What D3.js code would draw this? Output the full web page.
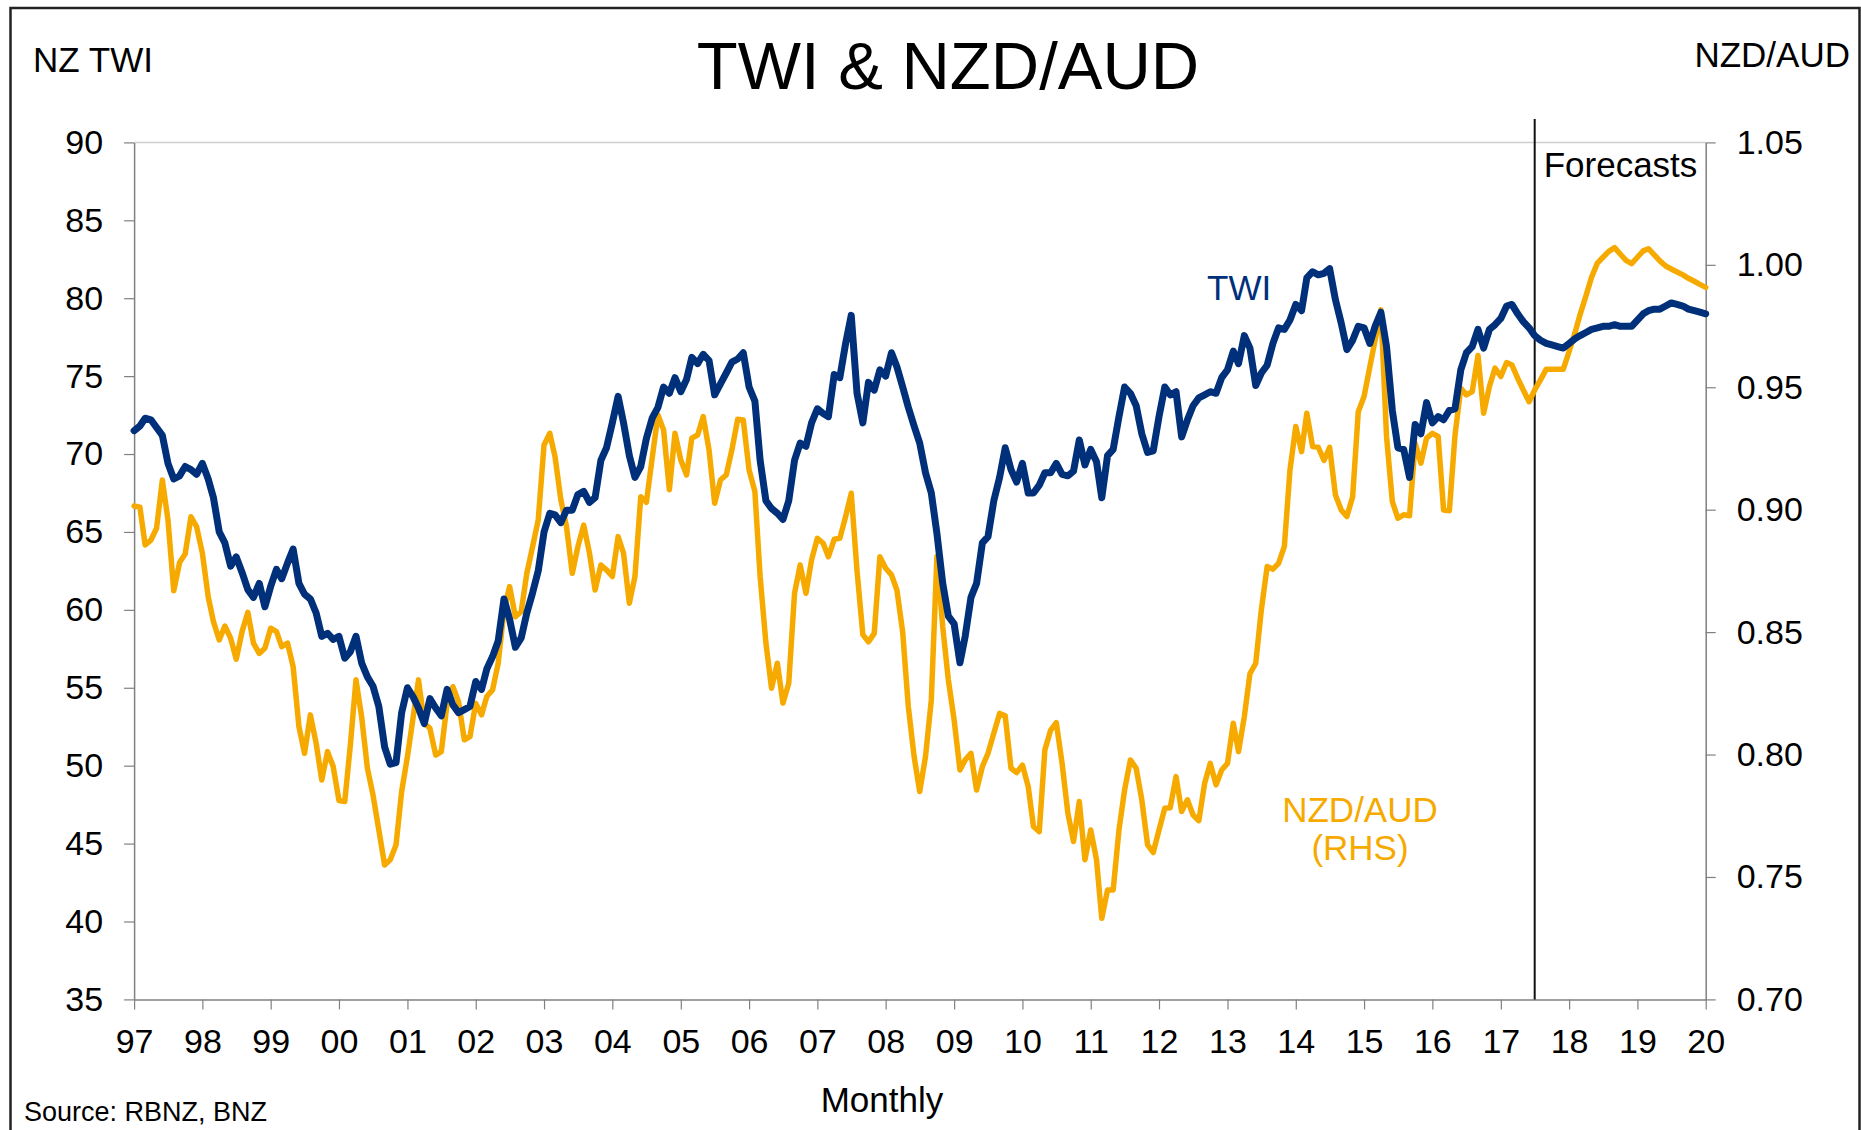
<!DOCTYPE html>
<html>
<head>
<meta charset="utf-8">
<script src="https://cdn.jsdelivr.net/npm/d3@7"></script>
<style>
  body { margin: 0; background: #fff; }
  svg { display: block; font-family: "Liberation Sans", Arial, sans-serif; }
</style>
</head>
<body>
<div id="chart-container"></div>
<script>
// Monthly series, Jan 1997 .. Jan 2020 (one row per year)
const startYear = 1997;
const forecastStart = new Date(2017, 6, 1);

const twi = [
  71.5, 71.8, 72.3, 72.2, 71.7, 71.2, 69.4, 68.4, 68.6, 69.2, 69.0, 68.7,
  69.4, 68.4, 67.2, 65.0, 64.3, 62.8, 63.4, 62.4, 61.3, 60.8, 61.7, 60.2,
  61.5, 62.6, 62.0, 63.0, 63.9, 61.7, 61.0, 60.7, 59.8, 58.3, 58.5, 58.1,
  58.3, 56.9, 57.3, 58.3, 56.6, 55.7, 55.1, 53.8, 51.2, 50.1, 50.2, 53.4,
  55.0, 54.4, 53.7, 52.7, 54.3, 53.7, 53.2, 54.9, 53.9, 53.4, 53.6, 53.8,
  55.4, 54.9, 56.2, 57.0, 58.0, 60.7, 59.4, 57.6, 58.2, 59.8, 61.1, 62.5,
  65.0, 66.2, 66.1, 65.6, 66.4, 66.4, 67.4, 67.6, 66.9, 67.2, 69.6, 70.4,
  72.0, 73.7, 72.0, 69.9, 68.5, 69.2, 71.0, 72.3, 73.0, 74.3, 73.9, 74.9,
  74.0, 74.8, 76.2, 75.8, 76.4, 76.0, 73.8, 74.5, 75.2, 75.9, 76.1, 76.5,
  74.3, 73.4, 69.6, 67.0, 66.5, 66.2, 65.8, 67.0, 69.6, 70.7, 70.5, 72.0,
  72.9, 72.6, 72.4, 75.1, 74.9, 77.1, 78.9, 73.9, 72.0, 74.6, 74.1, 75.4,
  75.0, 76.5, 75.6, 74.3, 73.0, 71.8, 70.7, 68.8, 67.5, 64.9, 61.7, 59.6,
  59.1, 56.6, 58.3, 60.8, 61.7, 64.3, 64.7, 67.0, 68.5, 70.4, 69.0, 68.2,
  69.4, 67.5, 67.5, 68.0, 68.8, 68.8, 69.4, 68.7, 68.6, 68.9, 70.9, 69.3,
  70.3, 69.5, 67.2, 69.9, 70.3, 72.4, 74.3, 73.9, 73.1, 71.3, 70.1, 70.2,
  72.4, 74.3, 73.8, 74.0, 71.1, 72.2, 73.1, 73.6, 73.8, 74.0, 73.9, 74.9,
  75.4, 76.6, 75.8, 77.6, 76.8, 74.4, 75.2, 75.7, 77.1, 78.1, 78.0, 78.6,
  79.6, 79.2, 81.3, 81.7, 81.5, 81.6, 81.9, 79.9, 78.4, 76.7, 77.3, 78.2,
  78.1, 77.1, 78.2, 79.1, 76.9, 72.8, 70.4, 70.3, 68.5, 71.9, 71.3, 73.3,
  72.0, 72.4, 72.2, 72.8, 72.9, 75.4, 76.5, 76.9, 78.0, 76.8, 78.0, 78.3,
  78.7, 79.5, 79.6, 79.0, 78.5, 78.1, 77.6, 77.3, 77.1, 77.0, 76.9, 76.8,
  77.1, 77.4, 77.6, 77.8, 78.0, 78.1, 78.2, 78.2, 78.3, 78.2, 78.2, 78.2,
  78.6, 79.0, 79.2, 79.3, 79.3, 79.5, 79.7, 79.6, 79.5, 79.3, 79.2, 79.1,
  79.0
];

const nzdaud = [
  0.9015, 0.9010, 0.8856, 0.8876, 0.8924, 0.9121, 0.8958, 0.8669, 0.8784, 0.8819, 0.8971, 0.8931,
  0.8822, 0.8645, 0.8543, 0.8468, 0.8525, 0.8475, 0.8389, 0.8502, 0.8581, 0.8455, 0.8413, 0.8434,
  0.8516, 0.8502, 0.8441, 0.8455, 0.8359, 0.8114, 0.8005, 0.8162, 0.8046, 0.7896, 0.8012, 0.7951,
  0.7812, 0.7808, 0.8032, 0.8305, 0.8155, 0.7944, 0.7835, 0.7692, 0.7549, 0.7570, 0.7631, 0.7849,
  0.7992, 0.8155, 0.8305, 0.8128, 0.8107, 0.7998, 0.8012, 0.8209, 0.8277, 0.8216, 0.8060, 0.8073,
  0.8209, 0.8162, 0.8237, 0.8264, 0.8373, 0.8590, 0.8686, 0.8563, 0.8584, 0.8740, 0.8849, 0.8958,
  0.9264, 0.9312, 0.9216, 0.9040, 0.8931, 0.8740, 0.8849, 0.8937, 0.8822, 0.8672, 0.8774, 0.8754,
  0.8727, 0.8890, 0.8822, 0.8618, 0.8727, 0.9053, 0.9030, 0.9210, 0.9387, 0.9326, 0.9081, 0.9312,
  0.9203, 0.9142, 0.9292, 0.9305, 0.9380, 0.9244, 0.9026, 0.9121, 0.9142, 0.9244, 0.9369, 0.9366,
  0.9162, 0.9074, 0.8727, 0.8455, 0.8271, 0.8373, 0.8210, 0.8291, 0.8659, 0.8774, 0.8659, 0.8795,
  0.8883, 0.8863, 0.8808, 0.8879, 0.8883, 0.8972, 0.9067, 0.8750, 0.8490, 0.8460, 0.8495, 0.8808,
  0.8761, 0.8734, 0.8672, 0.8500, 0.8196, 0.7992, 0.7849, 0.7992, 0.8223, 0.8809, 0.8522, 0.8305,
  0.8141, 0.7937, 0.7978, 0.8005, 0.7855, 0.7951, 0.8005, 0.8087, 0.8168, 0.8158, 0.7944, 0.7926,
  0.7957, 0.7869, 0.7706, 0.7685, 0.8019, 0.8100, 0.8130, 0.7964, 0.7760, 0.7645, 0.7808, 0.7570,
  0.7692, 0.7570, 0.7331, 0.7447, 0.7447, 0.7692, 0.7855, 0.7978, 0.7944, 0.7815, 0.7631, 0.7600,
  0.7692, 0.7781, 0.7783, 0.7910, 0.7767, 0.7815, 0.7753, 0.7730, 0.7883, 0.7964, 0.7876, 0.7937,
  0.7964, 0.8128, 0.8012, 0.8155, 0.8330, 0.8373, 0.8591, 0.8768, 0.8757, 0.8781, 0.8850, 0.9162,
  0.9340, 0.9237, 0.9394, 0.9258, 0.9255, 0.9201, 0.9255, 0.9060, 0.8999, 0.8972, 0.9053, 0.9400,
  0.9462, 0.9584, 0.9693, 0.9816, 0.9300, 0.9033, 0.8965, 0.8979, 0.8975, 0.9271, 0.9190, 0.9292,
  0.9312, 0.9299, 0.8999, 0.8996, 0.9304, 0.9496, 0.9469, 0.9482, 0.9630, 0.9394, 0.9503, 0.9578,
  0.9544, 0.9601, 0.9591, 0.9537, 0.9489, 0.9441, 0.9489, 0.9530, 0.9574, 0.9574, 0.9574, 0.9574,
  0.9646, 0.9722, 0.9798, 0.9873, 0.9949, 1.0007, 1.0031, 1.0055, 1.0070, 1.0044, 1.0018, 1.0005,
  1.0031, 1.0057, 1.0066, 1.0041, 1.0016, 0.9995, 0.9983, 0.9971, 0.9959, 0.9945, 0.9933, 0.9920,
  0.9908
];

// Axis ticks
const leftTicks = [35, 40, 45, 50, 55, 60, 65, 70, 75, 80, 85, 90];
const rightTicks = [0.70, 0.75, 0.80, 0.85, 0.90, 0.95, 1.00, 1.05];
const yearTicks = d3.range(1997, 2021);

const width = 1861;
const height = 1130;
const margin = { top: 142.4, right: 155.3, bottom: 130.6, left: 134.1 };

const blue = "#00307a";
const orange = "#f6aa00";
const axisGrey = "#808080";

const months = twi.map((d, i) => new Date(startYear, i, 1));

const x = d3.scaleTime()
    .domain([new Date(1997, 0, 1), new Date(2020, 0, 1)])
    .range([margin.left, width - margin.right]);

const yLeft = d3.scaleLinear()
    .domain([35, 90])
    .range([height - margin.bottom, margin.top]);

const yRight = d3.scaleLinear()
    .domain([0.70, 1.05])
    .range([height - margin.bottom, margin.top]);

const svg = d3.select("#chart-container")
    .append("svg")
    .attr("width", width)
    .attr("height", height)
    .attr("viewBox", `0 0 ${width} ${height}`);

svg.append("rect")
    .attr("width", width)
    .attr("height", height)
    .attr("fill", "#fff");

// outer frame
svg.append("rect")
    .attr("x", 10.5)
    .attr("y", 8)
    .attr("width", width - 12)
    .attr("height", height + 10)
    .attr("fill", "none")
    .attr("stroke", "#222")
    .attr("stroke-width", 2.5);

// top line of plot area (90 level)
svg.append("line")
    .attr("x1", margin.left)
    .attr("x2", width - margin.right)
    .attr("y1", yLeft(90))
    .attr("y2", yLeft(90))
    .attr("stroke", "#cfcfcf")
    .attr("stroke-width", 1.5);

function styleAxis(g) {
    g.select(".domain").attr("stroke", axisGrey).attr("stroke-width", 1.5);
    g.selectAll(".tick line").attr("stroke", axisGrey).attr("stroke-width", 1.2);
    g.selectAll(".tick text")
        .attr("fill", "#000")
        .style("font-size", "34px")
        .style("font-family", "'Liberation Sans', Arial, sans-serif");
}

// Left axis
svg.append("g")
    .attr("transform", `translate(${margin.left},0)`)
    .call(d3.axisLeft(yLeft).tickValues(leftTicks).tickSize(10).tickSizeOuter(0).tickPadding(21))
    .call(styleAxis);

// Right axis
svg.append("g")
    .attr("transform", `translate(${width - margin.right},0)`)
    .call(d3.axisRight(yRight).tickValues(rightTicks).tickFormat(d3.format(".2f")).tickSize(10).tickSizeOuter(0).tickPadding(21))
    .call(styleAxis);

// Bottom axis
svg.append("g")
    .attr("transform", `translate(0,${height - margin.bottom})`)
    .call(d3.axisBottom(x)
        .tickValues(yearTicks.map((y) => new Date(y, 0, 1)))
        .tickFormat(d3.timeFormat("%y"))
        .tickSize(10)
        .tickSizeOuter(0)
        .tickPadding(19))
    .call(styleAxis);

// Forecast divider
svg.append("line")
    .attr("x1", x(forecastStart))
    .attr("x2", x(forecastStart))
    .attr("y1", 119)
    .attr("y2", yLeft(35))
    .attr("stroke", "#111")
    .attr("stroke-width", 2);

svg.append("text")
    .attr("x", x(forecastStart) + 9)
    .attr("y", 177)
    .style("font-size", "35px")
    .text("Forecasts");

// Lines
const twiLine = d3.line()
    .x((d, i) => x(months[i]))
    .y((d) => yLeft(d));

const nzdLine = d3.line()
    .x((d, i) => x(months[i]))
    .y((d) => yRight(d));

svg.append("path")
    .datum(nzdaud)
    .attr("d", nzdLine)
    .attr("fill", "none")
    .attr("stroke", orange)
    .attr("stroke-width", 5.5)
    .attr("stroke-linejoin", "round")
    .attr("stroke-linecap", "round");

svg.append("path")
    .datum(twi)
    .attr("d", twiLine)
    .attr("fill", "none")
    .attr("stroke", blue)
    .attr("stroke-width", 7)
    .attr("stroke-linejoin", "round")
    .attr("stroke-linecap", "round");

// Titles and labels
svg.append("text")
    .attr("x", 948)
    .attr("y", 89)
    .attr("text-anchor", "middle")
    .style("font-size", "67px")
    .text("TWI & NZD/AUD");

svg.append("text")
    .attr("x", 33)
    .attr("y", 72)
    .style("font-size", "35px")
    .text("NZ TWI");

svg.append("text")
    .attr("x", 1850)
    .attr("y", 67)
    .attr("text-anchor", "end")
    .style("font-size", "35px")
    .text("NZD/AUD");

svg.append("text")
    .attr("x", 1207)
    .attr("y", 300)
    .attr("fill", blue)
    .style("font-size", "35px")
    .text("TWI");

svg.append("text")
    .attr("x", 1360)
    .attr("y", 822)
    .attr("text-anchor", "middle")
    .attr("fill", orange)
    .style("font-size", "35px")
    .text("NZD/AUD");

svg.append("text")
    .attr("x", 1360)
    .attr("y", 860)
    .attr("text-anchor", "middle")
    .attr("fill", orange)
    .style("font-size", "35px")
    .text("(RHS)");

svg.append("text")
    .attr("x", 882)
    .attr("y", 1112)
    .attr("text-anchor", "middle")
    .style("font-size", "35px")
    .text("Monthly");

svg.append("text")
    .attr("x", 24)
    .attr("y", 1121)
    .style("font-size", "27px")
    .text("Source: RBNZ, BNZ");
</script>
</body>
</html>
